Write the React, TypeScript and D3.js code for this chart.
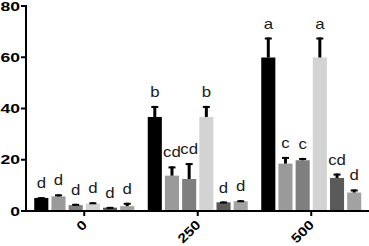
import React from "react";
import * as d3 from "d3";

const groups = ["0", "250", "500"];
const seriesIdx = [0, 1, 2, 3, 4, 5];
const means0 = [5.1, 5.7, 2.3, 2.9, 1.3, 1.9];
const means250 = [36.7, 13.8, 12.5, 36.7, 3.4, 3.8];
const means500 = [59.9, 18.5, 19.8, 59.9, 12.9, 7.2];
const errs0 = [0.3, 0.8, 0.5, 0.5, 0.3, 1.3];
const errs250 = [4.3, 3.6, 6.2, 4.3, 0.3, 0.4];
const errs500 = [7.8, 2.6, 0.9, 7.8, 1.7, 1.2];
const letters0 = ["d", "d", "d", "d", "d", "d"];
const letters250 = ["b", "cd", "cd", "b", "d", "d"];
const letters500 = ["a", "c", "c", "a", "cd", "d"];
const yTicks = [0, 20, 40, 60, 80];
const colors = ["#000000", "#9a9a9a", "#7f7f7f", "#d3d3d3", "#5a5a5a", "#a2a2a2"];

const means = [means0, means250, means500];
const errs = [errs0, errs250, errs500];
const letters = [letters0, letters250, letters500];

export default function App() {
  const W = 369, H = 246;
  const x0 = d3.scaleBand<string>().domain(groups).range([27.5, 368]).padding(0);
  const x1 = d3.scaleBand<number>().domain(seriesIdx).range([6.75, 106.75]).paddingInner(0.18);
  const y = d3.scaleLinear().domain([0, 80]).range([211, 6]);
  const font = "'Liberation Sans', Arial, sans-serif";
  return (
    <svg width={W} height={H} style={{ position: "absolute", left: 0, top: 0, background: "#fff" }}>
      {groups.map((g, gi) => (
        <g key={g} transform={`translate(${x0(g)},0)`}>
          {seriesIdx.map((s) => {
            const m = means[gi][s];
            const e = errs[gi][s];
            const bx = x1(s)!;
            const bw = x1.bandwidth();
            const cx = bx + bw / 2;
            const top = y(m + e);
            return (
              <g key={s}>
                <rect x={bx} y={y(m)} width={bw} height={y(0) - y(m)} fill={colors[s]} />
                <line x1={cx} x2={cx} y1={y(m)} y2={top} stroke="#000" strokeWidth={3} />
                <line x1={cx - 3.5} x2={cx + 3.5} y1={top + 1} y2={top + 1} stroke="#000" strokeWidth={2} />
                <text
                  transform={`translate(${cx},${top - 9}) scale(1.2,1)`}
                  textAnchor="middle"
                  fontFamily={font}
                  fontSize={14}
                  fill="#1a1a1a"
                >
                  {letters[gi][s]}
                </text>
              </g>
            );
          })}
        </g>
      ))}
      {/* axes */}
      <line x1={26} x2={26} y1={5} y2={212} stroke="#000" strokeWidth={2} />
      <line x1={25} x2={369} y1={211} y2={211} stroke="#000" strokeWidth={2} />
      {yTicks.map((t) => (
        <g key={t}>
          <line x1={21} x2={26} y1={y(t)} y2={y(t)} stroke="#000" strokeWidth={2} />
          <text
            transform={`translate(20,${y(t)}) scale(1.35,1)`}
            textAnchor="end"
            dominantBaseline="central"
            fontFamily={font}
            fontWeight="bold"
            fontSize={13}
            fill="#000"
          >
            {t}
          </text>
        </g>
      ))}
      {groups.map((g) => {
        const cx = x0(g)! + x0.bandwidth() / 2;
        return (
          <g key={g}>
            <line x1={cx} x2={cx} y1={211} y2={216} stroke="#000" strokeWidth={2} />
            <text
              transform={`translate(${cx - 3},${219}) rotate(-45) scale(1.2,1)`}
              textAnchor="end"
              dominantBaseline="hanging"
              fontFamily={font}
              fontWeight="bold"
              fontSize={13}
              fill="#000"
            >
              {g}
            </text>
          </g>
        );
      })}
    </svg>
  );
}
